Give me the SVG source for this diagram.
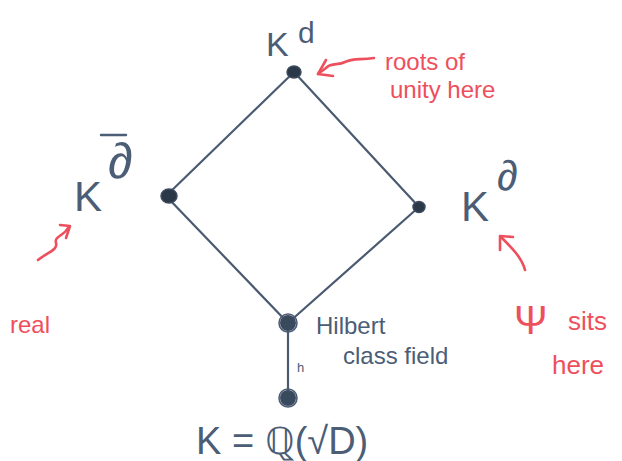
<svg xmlns="http://www.w3.org/2000/svg" width="622" height="461" viewBox="0 0 622 461">
<defs>
<style>
.edge{stroke:#4a5a70;stroke-width:2.2;fill:none;stroke-linecap:round}
.dot{fill:#2b3848;stroke:#3c4a5e;stroke-width:1.5}
.ring{fill:#3a4a5e;stroke:#3c4a5e;stroke-width:2}
.blue{fill:#4c5d76;font-family:"Liberation Sans",sans-serif}
.red{fill:#ee4f5c;font-family:"Liberation Sans",sans-serif}
.rarrow{stroke:#ee4f5c;stroke-width:2.6;fill:none;stroke-linecap:round;stroke-linejoin:round}
</style>
</defs>
<rect width="622" height="461" fill="#ffffff"/>
<g id="connectors">
<line class="edge" x1="294" y1="72" x2="166" y2="196"/>
<line class="edge" x1="294" y1="72" x2="419" y2="207"/>
<line class="edge" x1="166" y1="196" x2="288" y2="323"/>
<line class="edge" x1="419" y1="207" x2="288" y2="323"/>
<line class="edge" x1="288" y1="323" x2="288" y2="398"/>
</g>
<g id="node-top">
<ellipse class="dot" cx="294" cy="72" rx="7" ry="6"/>
<text class="blue" x="266" y="56" font-size="34">K</text>
<text class="blue" x="298" y="43" font-size="30">d</text>
</g>
<g id="node-left">
<ellipse class="dot" cx="169" cy="196" rx="8" ry="7"/>
<text class="blue" x="74" y="211" font-size="42">K</text>
<text class="blue" x="108" y="178" font-size="50">∂</text>
<line x1="101" y1="135" x2="126" y2="135" stroke="#4c5d76" stroke-width="2.4" stroke-linecap="round"/>
</g>
<g id="node-right">
<ellipse class="dot" cx="419" cy="207" rx="6" ry="5.5"/>
<text class="blue" x="461" y="221" font-size="42">K</text>
<text class="blue" x="497" y="190" font-size="42">∂</text>
</g>
<g id="node-hilbert">
<circle class="ring" cx="288" cy="323" r="7"/>
<circle cx="288" cy="323" r="9" fill="none" stroke="#4c5d76" stroke-width="1.6"/>
<text class="blue" x="316" y="334" font-size="24">Hilbert</text>
<text class="blue" x="343" y="364" font-size="24">class field</text>
<text class="blue" x="297" y="372" font-size="13">h</text>
</g>
<g id="node-bottom">
<circle class="ring" cx="288" cy="398" r="7"/>
<circle cx="288" cy="398" r="9" fill="none" stroke="#4c5d76" stroke-width="1.6"/>
<text class="blue" x="196" y="454" font-size="38">K = ℚ(√D)</text>
</g>
<g id="annotations">
<path class="rarrow" d="M374 58 C360 60 352 58 345 62 C338 66 332 62 326 68 L318 74"/>
<path class="rarrow" d="M318 74 L326 60 M318 74 L333 76"/>
<text class="red" x="385" y="70" font-size="24">roots of</text>
<text class="red" x="390" y="98" font-size="24">unity here</text>
<path class="rarrow" d="M38 260 C48 252 58 250 56 243 C54 236 64 236 68 228"/>
<path class="rarrow" d="M60 225 L70 226 L66 238"/>
<text class="red" x="10" y="333" font-size="24">real</text>
<path class="rarrow" d="M525 270 C522 258 512 248 502 238"/>
<path class="rarrow" d="M500 236 L500 250 M500 236 L513 237"/>
<text class="red" x="514" y="334" font-size="40">Ψ</text>
<text class="red" x="568" y="330" font-size="26">sits</text>
<text class="red" x="552" y="374" font-size="26">here</text>
</g>
</svg>
